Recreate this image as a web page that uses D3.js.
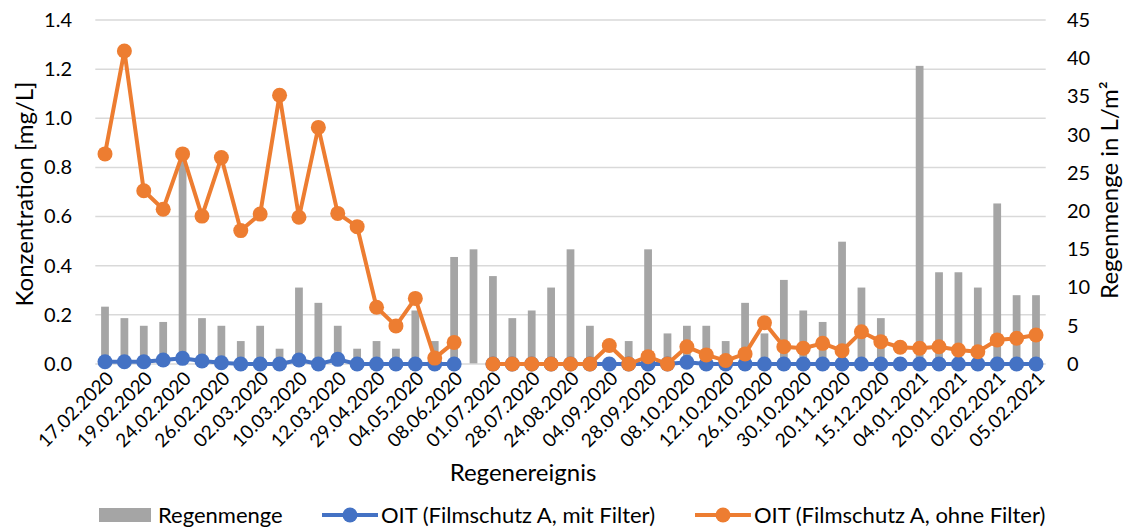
<!DOCTYPE html>
<html>
<head>
<meta charset="utf-8">
<script src="https://cdn.jsdelivr.net/npm/d3@7"></script>
<style>
  body { margin: 0; background: #fff; }
  svg { font-family: Lato, "Open Sans", sans-serif; fill: #000; }
</style>
</head>
<body>
<div class="chart"></div>
<script>
// 49 rain events, only every second one is labelled on the axis
var tickLabels = ["17.02.2020","19.02.2020","24.02.2020","26.02.2020","02.03.2020","10.03.2020",
  "12.03.2020","29.04.2020","04.05.2020","08.06.2020","01.07.2020","28.07.2020","24.08.2020",
  "04.09.2020","28.09.2020","08.10.2020","12.10.2020","26.10.2020","30.10.2020","20.11.2020",
  "15.12.2020","04.01.2021","20.01.2021","02.02.2021","05.02.2021"];
var events = d3.range(49);

// Regenmenge in L/m2 (right axis)
var regen = [7.5,6,5,5.5,27,6,5,3,5,2,10,8,5,2,3,2,7,3,14,15,11.5,6,7,10,15,5,0,3,15,4,5,5,3,8,4,
  11,7,5.5,16,10,6,0,39,12,12,10,21,9,9];

// OIT mit Filter (left axis, mg/L)
var mitFilter = [0.009,0.009,0.009,0.016,0.023,0.012,0.005,0,0,0,0.016,0,0.019,0,0,0,0,0,0,null,
  0,0,0,0,0,0,0,0,0,0,0.007,0,0,0,0,0,0,0,0,0,0,0,0,0,0,0,0,0,0];

// OIT ohne Filter (left axis, mg/L)
var ohneFilter = [0.855,1.274,0.705,0.63,0.855,0.602,0.84,0.543,0.61,1.094,0.597,0.963,0.613,0.559,
  0.231,0.155,0.267,0.024,0.088,null,0,0,0,0,0,0,0.075,0,0.03,0,0.07,0.037,0.014,0.041,0.168,0.07,
  0.064,0.084,0.054,0.131,0.091,0.068,0.064,0.07,0.057,0.05,0.098,0.105,0.118];

var leftTicks = [0,0.2,0.4,0.6,0.8,1.0,1.2,1.4];
var rightTicks = [0,5,10,15,20,25,30,35,40,45];

var width = 1134, height = 529;
var plotL = 95.3, plotR = 1045.7, plotT = 20, plotB = 364;
var blue = "#4472C4", orange = "#ED7D31", grey = "#A5A5A5";

var svg = d3.select(".chart").append("svg")
  .attr("width", width)
  .attr("height", height);

var x = d3.scalePoint().domain(events).range([plotL, plotR]).padding(0.5);
var yL = d3.scaleLinear().domain([0, 1.4]).range([plotB, plotT]);
var yR = d3.scaleLinear().domain([0, 45]).range([plotB, plotT]);
var barW = x.step() * 0.4;

// gridlines
svg.append("g")
  .selectAll("line")
  .data(leftTicks.slice(1))
  .enter().append("line")
  .attr("x1", plotL).attr("x2", plotR)
  .attr("y1", function(d) { return yL(d); })
  .attr("y2", function(d) { return yL(d); })
  .attr("stroke", "#D9D9D9")
  .attr("stroke-width", 1.5);

// left axis labels
var leftAxis = d3.axisLeft(yL).tickValues(leftTicks).tickFormat(d3.format(".1f")).tickSize(0).tickPadding(0);
svg.append("g")
  .attr("transform", "translate(72,0)")
  .call(leftAxis)
  .call(function(g) { g.select(".domain").remove(); })
  .selectAll("text")
  .attr("font-family", "Lato, sans-serif")
  .attr("font-size", 20)
  .attr("fill", "#000");

// right axis labels
var rightAxis = d3.axisRight(yR).tickValues(rightTicks).tickSize(0).tickPadding(0);
svg.append("g")
  .attr("transform", "translate(1067,0)")
  .call(rightAxis)
  .call(function(g) { g.select(".domain").remove(); })
  .selectAll("text")
  .attr("font-family", "Lato, sans-serif")
  .attr("font-size", 20)
  .attr("fill", "#000");

// bars
svg.append("g")
  .selectAll("rect")
  .data(regen)
  .enter().append("rect")
  .attr("x", function(d, i) { return x(i) - barW / 2; })
  .attr("width", barW)
  .attr("y", function(d) { return yR(d); })
  .attr("height", function(d) { return plotB - yR(d); })
  .attr("fill", grey);

// x axis line
svg.append("line")
  .attr("x1", plotL).attr("x2", plotR)
  .attr("y1", plotB).attr("y2", plotB)
  .attr("stroke", "#D9D9D9")
  .attr("stroke-width", 1.5);

// x labels
svg.append("g")
  .selectAll("text")
  .data(tickLabels)
  .enter().append("text")
  .attr("transform", function(d, i) {
    return "translate(" + (x(i * 2) + 5) + "," + (plotB + 11) + ") rotate(-45)";
  })
  .attr("text-anchor", "end")
  .attr("dy", "0.35em")
  .attr("font-size", 19)
  .text(function(d) { return d; });

// lines
function drawSeries(data, color) {
  var line = d3.line()
    .defined(function(d) { return d != null; })
    .x(function(d, i) { return x(i); })
    .y(function(d) { return yL(d); });
  svg.append("path")
    .datum(data)
    .attr("fill", "none")
    .attr("stroke", color)
    .attr("stroke-width", 4)
    .attr("stroke-linejoin", "round")
    .attr("d", line);
  svg.append("g")
    .selectAll("circle")
    .data(data.map(function(d, i) { return [i, d]; }).filter(function(d) { return d[1] != null; }))
    .enter().append("circle")
    .attr("cx", function(d) { return x(d[0]); })
    .attr("cy", function(d) { return yL(d[1]); })
    .attr("r", 7.5)
    .attr("fill", color);
}
drawSeries(mitFilter, blue);
drawSeries(ohneFilter, orange);

// axis titles
svg.append("text")
  .attr("transform", "translate(25,194) rotate(-90)")
  .attr("text-anchor", "middle")
  .attr("dy", "0.35em")
  .attr("font-size", 24)
  .text("Konzentration [mg/L]");

svg.append("text")
  .attr("transform", "translate(1110,190) rotate(-90)")
  .attr("text-anchor", "middle")
  .attr("dy", "0.35em")
  .attr("font-size", 24)
  .text("Regenmenge in L/m²");

svg.append("text")
  .attr("x", 523)
  .attr("y", 473)
  .attr("text-anchor", "middle")
  .attr("dy", "0.35em")
  .attr("font-size", 24)
  .text("Regenereignis");

// legend
var legend = svg.append("g").attr("font-size", 22);
legend.append("rect")
  .attr("x", 99).attr("y", 508).attr("width", 52).attr("height", 14)
  .attr("fill", grey);
legend.append("text").attr("x", 158).attr("y", 515).attr("dy", "0.35em").text("Regenmenge");

[[322, blue, "OIT (Filmschutz A, mit Filter)"], [695, orange, "OIT (Filmschutz A, ohne Filter)"]]
  .forEach(function(l) {
    legend.append("line")
      .attr("x1", l[0]).attr("x2", l[0] + 56)
      .attr("y1", 515).attr("y2", 515)
      .attr("stroke", l[1]).attr("stroke-width", 4);
    legend.append("circle")
      .attr("cx", l[0] + 28).attr("cy", 515).attr("r", 7.5)
      .attr("fill", l[1]);
    legend.append("text")
      .attr("x", l[0] + 59).attr("y", 515).attr("dy", "0.35em")
      .text(l[2]);
  });
</script>
</body>
</html>
